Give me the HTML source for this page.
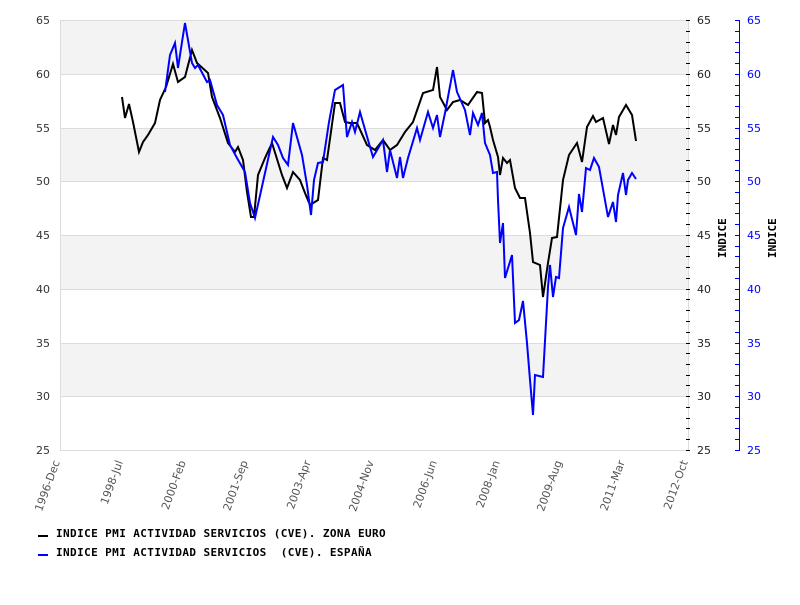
<!DOCTYPE html>
<html><head><meta charset="utf-8"><style>
body{margin:0;background:#fff;width:800px;height:600px;overflow:hidden}
svg text{font-family:"DejaVu Sans","Liberation Sans",sans-serif;font-size:11px}
svg text.mono{font-family:"DejaVu Sans Mono","Liberation Mono",monospace;font-weight:bold;font-size:11px}
svg text.leg{letter-spacing:0.4px}
</style></head><body>
<svg width="800" height="600" xmlns="http://www.w3.org/2000/svg">
<rect x="60" y="20" width="628" height="430" fill="#fff"/>
<rect x="60" y="20" width="628" height="54" fill="#f3f3f3"/>
<rect x="60" y="128" width="628" height="53.5" fill="#f3f3f3"/>
<rect x="60" y="235" width="628" height="54" fill="#f3f3f3"/>
<rect x="60" y="343" width="628" height="53.5" fill="#f3f3f3"/>
<g stroke="#dcdcdc" stroke-width="1">
<line x1="60" y1="20.5" x2="688" y2="20.5"/><line x1="60" y1="74.5" x2="688" y2="74.5"/>
<line x1="60" y1="128.5" x2="688" y2="128.5"/><line x1="60" y1="181.5" x2="688" y2="181.5"/>
<line x1="60" y1="235.5" x2="688" y2="235.5"/><line x1="60" y1="289.5" x2="688" y2="289.5"/>
<line x1="60" y1="343.5" x2="688" y2="343.5"/><line x1="60" y1="396.5" x2="688" y2="396.5"/>
<line x1="60" y1="450.5" x2="688" y2="450.5"/>
<line x1="60.5" y1="20" x2="60.5" y2="450"/><line x1="688.5" y1="20" x2="688.5" y2="450"/>
</g>
<g fill="#333" text-anchor="end">
<text x="50" y="24">65</text><text x="50" y="78">60</text><text x="50" y="132">55</text><text x="50" y="185">50</text><text x="50" y="239">45</text><text x="50" y="293">40</text><text x="50" y="347">35</text><text x="50" y="400">30</text><text x="50" y="454">25</text>
</g>
<g fill="#222">
<text x="697" y="24">65</text><text x="697" y="78">60</text><text x="697" y="132">55</text><text x="697" y="185">50</text><text x="697" y="239">45</text><text x="697" y="293">40</text><text x="697" y="347">35</text><text x="697" y="400">30</text><text x="697" y="454">25</text>
</g>
<g fill="#0000ff">
<text x="747" y="24">65</text><text x="747" y="78">60</text><text x="747" y="132">55</text><text x="747" y="185">50</text><text x="747" y="239">45</text><text x="747" y="293">40</text><text x="747" y="347">35</text><text x="747" y="400">30</text><text x="747" y="454">25</text>
</g>
<path stroke="#000" stroke-width="1" d="M686 20.5h4M686 31.5h4M686 42.5h4M686 52.5h4M686 63.5h4M686 74.5h4M686 85.5h4M686 95.5h4M686 106.5h4M686 117.5h4M686 128.5h4M686 138.5h4M686 149.5h4M686 160.5h4M686 170.5h4M686 181.5h4M686 192.5h4M686 203.5h4M686 213.5h4M686 224.5h4M686 235.5h4M686 246.5h4M686 256.5h4M686 267.5h4M686 278.5h4M686 289.5h4M686 299.5h4M686 310.5h4M686 321.5h4M686 332.5h4M686 343.5h4M686 353.5h4M686 364.5h4M686 375.5h4M686 385.5h4M686 396.5h4M686 407.5h4M686 418.5h4M686 428.5h4M686 439.5h4M686 450.5h4"/>
<path stroke="#0000ff" stroke-width="1" d="M739.5 20v430M735 20.5h5M735 31.5h4M735 42.5h4M735 52.5h4M735 63.5h4M735 74.5h5M735 85.5h4M735 95.5h4M735 106.5h4M735 117.5h4M735 128.5h5M735 138.5h4M735 149.5h4M735 160.5h4M735 170.5h4M735 181.5h5M735 192.5h4M735 203.5h4M735 213.5h4M735 224.5h4M735 235.5h5M735 246.5h4M735 256.5h4M735 267.5h4M735 278.5h4M735 289.5h5M735 299.5h4M735 310.5h4M735 321.5h4M735 332.5h4M735 343.5h5M735 353.5h4M735 364.5h4M735 375.5h4M735 385.5h4M735 396.5h5M735 407.5h4M735 418.5h4M735 428.5h4M735 439.5h4M735 450.5h5"/>
<text class="mono" transform="translate(726,258) rotate(-90)" fill="#000">INDICE</text>
<text class="mono" transform="translate(776,258) rotate(-90)" fill="#000">INDICE</text>
<g fill="#555" text-anchor="end">
<text transform="translate(60,462) rotate(-70)">1996-Dec</text>
<text transform="translate(123,462) rotate(-70)">1998-Jul</text>
<text transform="translate(186,462) rotate(-70)">2000-Feb</text>
<text transform="translate(248,462) rotate(-70)">2001-Sep</text>
<text transform="translate(311,462) rotate(-70)">2003-Apr</text>
<text transform="translate(374,462) rotate(-70)">2004-Nov</text>
<text transform="translate(437,462) rotate(-70)">2006-Jun</text>
<text transform="translate(500,462) rotate(-70)">2008-Jan</text>
<text transform="translate(562,462) rotate(-70)">2009-Aug</text>
<text transform="translate(625,462) rotate(-70)">2011-Mar</text>
<text transform="translate(688,462) rotate(-70)">2012-Oct</text>
</g>
<polyline fill="none" stroke="#000" stroke-width="2" points="122,97 125,118 129,104 133,122 139,152 143,142 148,135 155,123 160,100 166,87 173,64 178,82 185,77 192,50 197,63 208,73 212,97 220,118 228,143 235,152 238,147 243,160 247,192 251,217 254,217 258,175 265,158 272,143 282,175 287,188 293,172 300,180 305,193 310,205 318,200 323,158 327,160 335,103 340,103 345,122 350,123 357,123 367,145 375,150 383,140 390,150 397,145 405,132 413,122 423,93 433,90 437,67 440,97 447,110 453,102 460,100 468,105 477,92 482,93 485,123 488,120 490,127 493,140 498,157 500,175 503,158 507,163 510,160 515,188 520,198 525,198 530,233 533,262 540,265 543,297 548,263 552,238 557,237 563,180 569,155 577,143 582,162 587,127 593,116 596,122 603,118 609,144 613,125 616,135 619,117 626,105 632,115 636,141"/>
<polyline fill="none" stroke="#0000ff" stroke-width="2" points="165,92 170,55 175,43 178,68 182,42 185,23 192,63 195,68 198,65 207,82 210,80 217,105 223,115 230,145 237,158 245,172 250,203 255,218 263,182 273,137 278,145 283,158 288,165 293,123 302,155 307,185 311,215 314,180 318,163 323,162 329,122 335,90 343,85 347,137 352,122 355,132 360,112 368,140 373,157 383,140 387,172 390,150 397,178 400,157 403,178 408,158 417,128 420,140 428,112 433,128 437,115 440,137 445,113 453,70 457,92 465,110 470,135 473,113 478,125 482,113 485,143 490,155 493,173 497,172 498,200 500,243 503,223 505,278 512,255 515,323 519,320 523,301 527,343 530,380 533,415 535,375 543,377 548,287 550,265 553,297 556,277 559,278 563,228 569,207 576,235 579,194 582,212 586,168 590,170 594,158 599,167 608,217 613,202 616,222 618,195 623,173 626,195 628,180 632,173 636,179"/>
<rect x="38" y="535" width="10" height="2" fill="#000"/>
<text class="mono leg" x="56" y="537" fill="#000">INDICE PMI ACTIVIDAD SERVICIOS (CVE). ZONA EURO</text>
<rect x="38" y="554" width="10" height="2" fill="#0000ff"/>
<text class="mono leg" x="56" y="556" fill="#000" xml:space="preserve">INDICE PMI ACTIVIDAD SERVICIOS  (CVE). ESPAÑA</text>
</svg>
</body></html>
